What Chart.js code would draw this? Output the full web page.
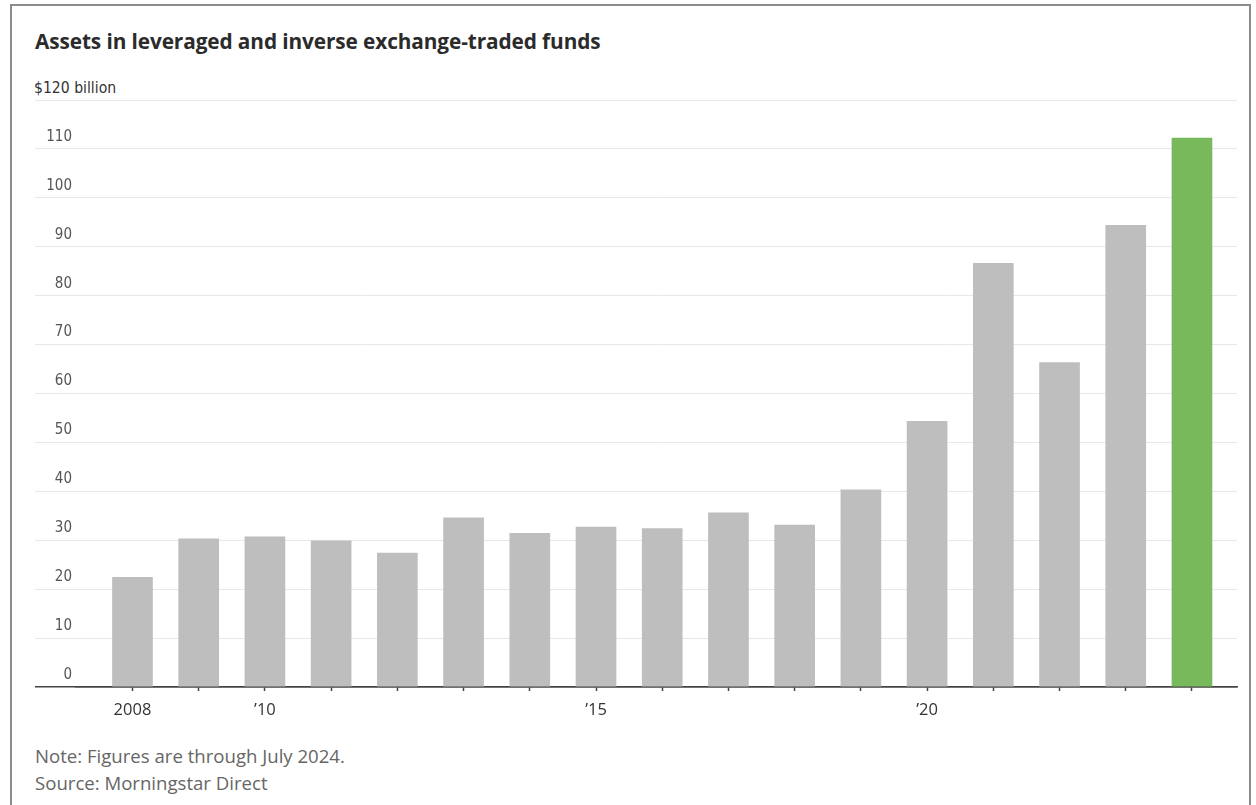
<!DOCTYPE html>
<html>
<head>
<meta charset="utf-8">
<script src="https://cdn.jsdelivr.net/npm/chart.js@4"></script>
<style>
  body { margin: 0; background: #fff; width: 1256px; height: 805px; overflow: hidden; position: relative; }
  .frame { position: absolute; left: 10px; top: 4px; width: 1241px; height: 840px; border: 2px solid #8c8c8c; box-sizing: border-box; }
  .title { position: absolute; left: 35px; top: 27px; font: bold 20.8px "Open Sans", sans-serif; color: #2b2b2b; letter-spacing: -0.1px; }
  .unit { position: absolute; left: 34px; top: 79px; font: 15.6px "DejaVu Sans Condensed", "Roboto", sans-serif; color: #333; }
  .note { position: absolute; left: 35px; font: 18.6px "Open Sans", sans-serif; color: #666; }
  canvas { position: absolute; left: 0; top: 0; }
</style>
</head>
<body>
<div class="frame"></div>
<div class="title">Assets in leveraged and inverse exchange-traded funds</div>
<div class="unit">$120 billion</div>
<canvas id="etfChart" width="1256" height="740"></canvas>
<div class="note" style="top:743px">Note: Figures are through July 2024.</div>
<div class="note" style="top:770px">Source: Morningstar Direct</div>

<script>
// years and assets (billions of dollars)
const years = [2008, 2009, 2010, 2011, 2012, 2013, 2014, 2015, 2016, 2017, 2018, 2019, 2020, 2021, 2022, 2023, 2024];
const assets = [22.4, 30.3, 30.7, 29.9, 27.4, 34.6, 31.4, 32.7, 32.4, 35.6, 33.1, 40.3, 54.3, 86.6, 66.3, 94.4, 112.2];

// labelled ticks on the x axis
const labelYears = [2008, 2010, 2015, 2020];
const labelText = ["2008", "\u201910", "\u201915", "\u201920"];

const gray = "#bebebe";
const green = "#78b95c";
const axisColor = "#444";
const gridColor = "#e8e8e8";

new Chart("etfChart", {
    type: "bar",
    data: {
        datasets: [{
            data: years.map((y, i) => ({ x: y, y: assets[i] })),
            backgroundColor: ctx => ctx.dataIndex === years.length - 1 ? green : gray,
            barThickness: 40,
            borderWidth: 0
        }]
    },
    options: {
        responsive: false,
        animation: false,
        layout: {
            padding: { left: 35, right: 19, top: 100, bottom: 13 }
        },
        plugins: {
            legend: { display: false },
            tooltip: { enabled: false }
        },
        scales: {
            x: {
                type: "linear",
                offset: false,
                min: 2007.147,
                max: 2024.68,
                afterBuildTicks: (scale) => {
                    scale.ticks = years.map(v => ({ value: v }));
                },
                afterFit: (scale) => { scale.height = 40; },
                grid: {
                    offset: false,
                    drawOnChartArea: false,
                    drawTicks: true,
                    tickLength: 4,
                    tickColor: axisColor,
                    tickWidth: 1.5
                },
                border: { display: true, color: axisColor, width: 1.5 },
                ticks: {
                    autoSkip: false,
                    maxRotation: 0,
                    padding: 9,
                    color: "#333",
                    font: { family: "'Open Sans', sans-serif", size: 16.5 },
                    callback: (v) => {
                        const k = labelYears.indexOf(v);
                        return k === -1 ? "" : labelText[k];
                    }
                }
            },
            y: {
                min: 0,
                max: 120,
                afterFit: (scale) => { scale.width = 41; },
                grid: {
                    color: ctx => ctx.tick && ctx.tick.value === 0 ? axisColor : gridColor,
                    tickColor: ctx => ctx.tick && ctx.tick.value === 0 ? axisColor : gridColor,
                    lineWidth: ctx => ctx.tick && ctx.tick.value === 0 ? 1.5 : 1,
                    tickWidth: ctx => ctx.tick && ctx.tick.value === 0 ? 1.5 : 1,
                    drawTicks: true,
                    tickLength: 41
                },
                border: { display: false },
                ticks: {
                    stepSize: 10,
                    padding: -37,
                    labelOffset: -12,
                    color: "#555",
                    font: { family: "'DejaVu Sans Condensed', Roboto, sans-serif", size: 15 },
                    callback: (v) => v === 120 ? "" : v
                }
            }
        }
    }
});
</script>
</body>
</html>
